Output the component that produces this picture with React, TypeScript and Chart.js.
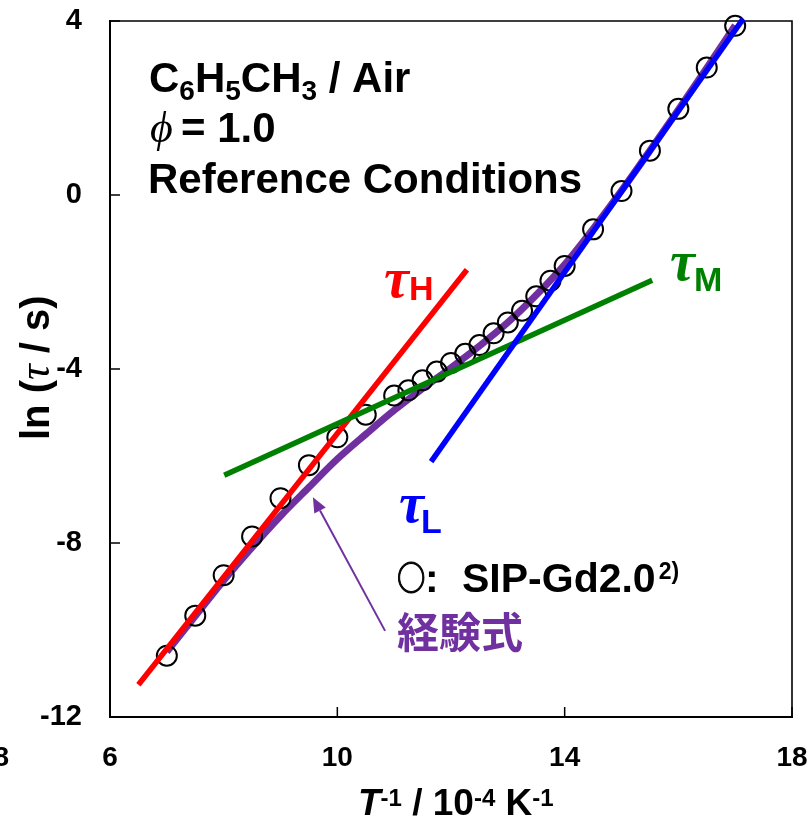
import React, { useEffect, useRef } from "react";
import { Chart, registerables } from "chart.js";

Chart.register(...registerables);

// ---- data ----
const circleX = [7.0, 7.5, 8.0, 8.5, 9.0, 9.5, 10.0, 10.5, 11.0, 11.25, 11.5, 11.75, 12.0, 12.25, 12.5, 12.75, 13.0, 13.25, 13.5, 13.75, 14.0, 14.5, 15.0, 15.5, 16.0, 16.5, 17.0];
const circleY = [-10.59, -9.67, -8.74, -7.85, -6.97, -6.21, -5.57, -5.05, -4.61, -4.49, -4.26, -4.06, -3.86, -3.65, -3.45, -3.18, -2.93, -2.66, -2.33, -1.97, -1.63, -0.79, 0.09, 1.02, 1.98, 2.93, 3.89];

const empX = [7.0, 7.5, 8.0, 8.5, 9.0, 9.5, 10.0, 10.5, 11.0, 11.5, 12.0, 12.5, 13.0, 13.5, 14.0, 14.5, 15.0, 15.5, 16.0, 16.5, 17.0];
const empY = [-10.5, -9.68, -8.86, -8.1, -7.38, -6.72, -6.07, -5.5, -4.95, -4.45, -3.97, -3.47, -2.93, -2.3, -1.6, -0.78, 0.1, 1.02, 1.96, 2.92, 3.9];

const tauHX = [6.5, 12.28];
const tauHY = [-11.26, -1.72];
const tauMX = [8.01, 15.54];
const tauMY = [-6.44, -1.96];
const tauLX = [11.65, 17.14];
const tauLY = [-6.13, 4.05];

const arrowFrom = [10.84, -10.02];
const arrowTo = [9.57, -6.95];

const xMin = 6, xMax = 18, xStep = 4;
const yMin = -12, yMax = 4, yStep = 4;

// ---- styles ----
const SANS = "'Liberation Sans', Arial, sans-serif";
const SERIF = "'Liberation Serif', 'DejaVu Serif', serif";
const CJK = "'Noto Sans CJK JP', sans-serif";
const RED = "#FF0000";
const GREEN = "#008000";
const BLUE = "#0000FF";
const PURPLE = "#7030A0";

const pts = (xs: number[], ys: number[]) => xs.map((x, i) => ({ x, y: ys[i] }));

type Seg = { t: string; f: string; dy?: number; c?: string; x?: number };
function drawRich(ctx: CanvasRenderingContext2D, x: number, y: number, segs: Seg[], color: string) {
  let cx = x;
  for (const s of segs) {
    if (s.x !== undefined) cx = s.x;
    ctx.font = s.f;
    ctx.fillStyle = s.c || color;
    ctx.fillText(s.t, cx, y + (s.dy || 0));
    cx += ctx.measureText(s.t).width;
  }
  return cx;
}

const framePlugin = {
  id: "frame",
  beforeDatasetsDraw(chart: any) {
    const { ctx, chartArea: a, scales } = chart;
    ctx.save();
    ctx.strokeStyle = "#000";
    ctx.lineCap = "square";
    ctx.lineWidth = 2;
    ctx.beginPath();
    ctx.moveTo(a.left, a.top);
    ctx.lineTo(a.left, a.bottom);
    ctx.lineTo(a.right, a.bottom);
    ctx.stroke();
    ctx.lineWidth = 1.6;
    ctx.beginPath();
    ctx.moveTo(a.left, a.top);
    ctx.lineTo(a.right, a.top);
    ctx.lineTo(a.right, a.bottom);
    ctx.stroke();
    ctx.lineWidth = 1.5;
    ctx.lineCap = "butt";
    ctx.beginPath();
    for (const t of scales.y.ticks) {
      const py = scales.y.getPixelForValue(t.value);
      ctx.moveTo(a.left, py);
      ctx.lineTo(a.left + 10, py);
    }
    for (const t of scales.x.ticks) {
      const px = scales.x.getPixelForValue(t.value);
      ctx.moveTo(px, a.bottom);
      ctx.lineTo(px, a.bottom - 10);
    }
    ctx.stroke();
    ctx.restore();
  },
};

const annotPlugin = {
  id: "annot",
  afterDraw(chart: any) {
    const { ctx, scales } = chart;
    const xs = scales.x, ys = scales.y;
    ctx.save();
    ctx.textAlign = "left";
    ctx.textBaseline = "alphabetic";

    const b42 = `bold 42px ${SANS}`;
    const b28 = `bold 28px ${SANS}`;
    drawRich(ctx, 149, 92, [
      { t: "C", f: b42 }, { t: "6", f: b28, dy: 8 },
      { t: "H", f: b42 }, { t: "5", f: b28, dy: 8 },
      { t: "CH", f: b42 }, { t: "3", f: b28, dy: 8 },
      { t: " / Air", f: b42 },
    ], "#000");
    drawRich(ctx, 150, 142, [
      { t: "\u03D5", f: `italic 44px ${SERIF}` },
      { t: "= 1.0", f: b42, x: 181 },
    ], "#000");
    drawRich(ctx, 148, 193, [{ t: "Reference Conditions", f: b42 }], "#000");

    const tauF = `bold italic 56px ${SERIF}`;
    const subF = `bold 34px ${SANS}`;
    drawRich(ctx, 384, 297, [{ t: "\u03C4", f: tauF }, { t: "H", f: subF, x: 409, dy: 3 }], RED);
    drawRich(ctx, 670, 280, [{ t: "\u03C4", f: tauF }, { t: "M", f: subF, x: 694, dy: 11 }], GREEN);
    drawRich(ctx, 399, 522, [{ t: "\u03C4", f: tauF }, { t: "L", f: subF, x: 421, dy: 11 }], BLUE);

    // circle legend glyph (slightly narrowed & emboldened)
    ctx.save();
    ctx.translate(397, 590);
    ctx.scale(0.86, 1);
    ctx.font = `bold 33px ${CJK}`;
    ctx.fillStyle = "#000";
    ctx.strokeStyle = "#000";
    ctx.lineWidth = 1.1;
    ctx.fillText("\u25CB", 0, 0);
    ctx.strokeText("\u25CB", 0, 0);
    ctx.restore();
    const endX = drawRich(ctx, 425, 592, [
      { t: ":", f: `bold 41px ${SANS}` },
      { t: "SIP-Gd2.0", f: `bold 41px ${SANS}`, x: 462 },
    ], "#000");
    drawRich(ctx, endX + 3, 579, [{ t: "2)", f: `bold 23px ${SANS}` }], "#000");

    drawRich(ctx, 397, 648, [{ t: "経験式", f: `bold 42px ${CJK}` }], PURPLE);

    // arrow
    const x1 = xs.getPixelForValue(arrowFrom[0]), y1 = ys.getPixelForValue(arrowFrom[1]);
    const x2 = xs.getPixelForValue(arrowTo[0]), y2 = ys.getPixelForValue(arrowTo[1]);
    const ang = Math.atan2(y2 - y1, x2 - x1);
    const L = 15, W = 6.5;
    const bx = x2 - L * Math.cos(ang), by = y2 - L * Math.sin(ang);
    ctx.strokeStyle = PURPLE;
    ctx.fillStyle = PURPLE;
    ctx.lineWidth = 2;
    ctx.beginPath();
    ctx.moveTo(x1, y1);
    ctx.lineTo(bx, by);
    ctx.stroke();
    ctx.beginPath();
    ctx.moveTo(x2, y2);
    ctx.lineTo(bx + W * Math.sin(ang), by - W * Math.cos(ang));
    ctx.lineTo(bx - W * Math.sin(ang), by + W * Math.cos(ang));
    ctx.closePath();
    ctx.fill();

    // x axis title
    const t37 = `bold 37px ${SANS}`;
    const s24 = `bold 24px ${SANS}`;
    drawRich(ctx, 358, 815, [
      { t: "T", f: `bold italic 37px ${SANS}` },
      { t: "-1", f: s24, dy: -9 },
      { t: " / 10", f: t37 },
      { t: "-4", f: s24, dy: -9 },
      { t: " K", f: t37 },
      { t: "-1", f: s24, dy: -9 },
    ], "#000");

    // y axis title (rotated)
    ctx.translate(49, 440);
    ctx.rotate(-Math.PI / 2);
    drawRich(ctx, 0, 0, [
      { t: "ln (", f: `bold 40px ${SANS}` },
      { t: "\u03C4", f: `italic 44px ${SERIF}` },
      { t: " / s)", f: `bold 40px ${SANS}` },
    ], "#000");
    ctx.restore();

    // partial tick label cut at the far left edge
    ctx.save();
    ctx.font = `bold 28px ${SANS}`;
    ctx.fillStyle = "#000";
    ctx.textAlign = "right";
    ctx.textBaseline = "middle";
    ctx.fillText("8", 9, xs.top + 24 + 16.8);
    ctx.restore();
  },
};

export default function App() {
  const ref = useRef<HTMLCanvasElement>(null);
  useEffect(() => {
    if (!ref.current) return;
    document.body.style.overflow = "hidden";
    const lineDs = (xs: number[], ys: number[], color: string, width: number, order: number) => ({
      data: pts(xs, ys),
      showLine: true,
      borderColor: color,
      backgroundColor: color,
      borderWidth: width,
      pointRadius: 0,
      pointHoverRadius: 0,
      borderCapStyle: "butt",
      clip: false,
      order,
    });
    const chart = new Chart(ref.current, {
      type: "scatter",
      data: {
        datasets: [
          { ...lineDs(empX, empY, PURPLE, 7, 5), cubicInterpolationMode: "monotone" } as any,
          {
            data: pts(circleX, circleY),
            showLine: false,
            pointRadius: 10,
            pointHoverRadius: 10,
            pointBorderWidth: 2,
            pointBorderColor: "#000",
            pointBackgroundColor: "rgba(0,0,0,0)",
            clip: false,
            order: 4,
          } as any,
          lineDs(tauHX, tauHY, RED, 5.5, 3) as any,
          lineDs(tauMX, tauMY, GREEN, 5.5, 2) as any,
          lineDs(tauLX, tauLY, BLUE, 5.5, 1) as any,
        ],
      },
      options: {
        responsive: false,
        animation: false,
        devicePixelRatio: 1,
        events: [],
        layout: { autoPadding: false, padding: { left: 0, top: 21, right: 18, bottom: 0 } },
        plugins: { legend: { display: false }, tooltip: { enabled: false }, title: { display: false } },
        scales: {
          x: {
            type: "linear",
            min: xMin,
            max: xMax,
            ticks: { stepSize: xStep, color: "#000", padding: 24, font: { family: SANS, weight: "bold", size: 28 } },
            grid: { display: false, drawTicks: false },
            border: { display: false },
            afterFit: (s: any) => {
              s.height = 106;
              s.paddingLeft = 0; s.paddingRight = 0; s.paddingTop = 0; s.paddingBottom = 0;
            },
          },
          y: {
            type: "linear",
            min: yMin,
            max: yMax,
            ticks: { stepSize: yStep, color: "#000", padding: 28, font: { family: SANS, weight: "bold", size: 29 } },
            grid: { display: false, drawTicks: false },
            border: { display: false },
            afterFit: (s: any) => {
              s.width = 110;
              s.paddingLeft = 0; s.paddingRight = 0; s.paddingTop = 0; s.paddingBottom = 0;
            },
          },
        },
      } as any,
      plugins: [framePlugin, annotPlugin],
    });
    return () => chart.destroy();
  }, []);
  return (
    <div style={{ position: "absolute", left: 0, top: 0, width: 810, height: 823, background: "#fff" }}>
      <canvas ref={ref} width={810} height={823} style={{ display: "block" }} />
    </div>
  );
}
